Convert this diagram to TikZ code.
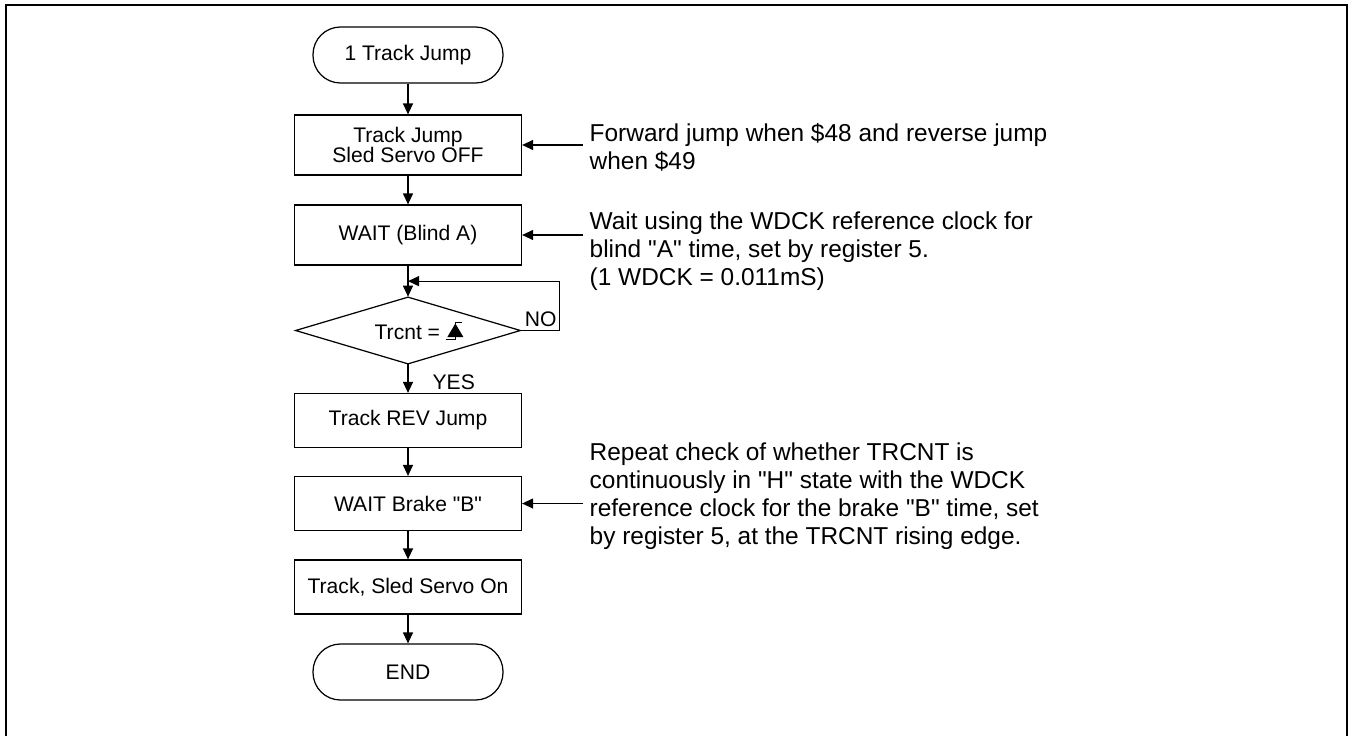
\documentclass[tikz,border=0pt]{standalone}
\usepackage{fontspec}
\setmainfont{Liberation Sans}[Ligatures=TeXOff]
\usetikzlibrary{calc}
\usetikzlibrary{shapes}
\usetikzlibrary{arrows.meta}

\newcommand{\risingedge}{\tikz[baseline=0pt]{%
  \draw[line width=0.5pt] (-0.18,0) -- (0,0) -- (0,0.34) -- (0.14,0.34);
  \fill (-0.16,0.04) -- (0.16,0.04) -- (0,0.31) -- cycle;}}

\begin{document}
\begin{tikzpicture}[
  node distance=1.8cm,
  >={Triangle[length=2.2mm,width=2mm]},
  line width=0.7pt,
  every node/.style={font=\fontsize{12pt}{11.3pt}\selectfont},
  stepbox/.style={draw, rectangle, minimum width=4.54cm, minimum height=1.08cm, align=center, inner sep=0pt},
  terminal/.style={draw, rectangle, rounded corners=5.5mm, minimum width=3.8cm, minimum height=1.12cm},
  decision/.style={draw, diamond, aspect=3.36, minimum width=4.5cm, minimum height=1.34cm, inner sep=0pt},
  note/.style={align=left, inner sep=0pt, font=\fontsize{13.9pt}{16pt}\selectfont}]
 \useasboundingbox (0,0) rectangle (27,-14.72);
 \draw[line width=1.1pt] (0.12,-14.72) -- (0.12,-0.1) -- (26.94,-0.1) -- (26.94,-14.72);

 \node[name=start, terminal] at (8.16,-1.1) {1 Track Jump};
 \node[name=jump, stepbox, minimum height=1.2cm, below of=start] {Track Jump\\Sled Servo OFF};
 \node[name=wait, stepbox, minimum height=1.2cm, below of=jump] {WAIT (Blind A)};
 \node[name=trcnt, decision, below of=wait, yshift=-1.1mm] {\hspace*{0.44cm}Trcnt = \risingedge};
 \node[name=rev, stepbox, below of=trcnt] {Track REV Jump};
 \node[name=brake, stepbox, below of=rev, yshift=1.4mm] {WAIT Brake "B"};
 \node[name=servo, stepbox, below of=brake, yshift=1.3mm] {Track, Sled Servo On};
 \node[name=finish, terminal, below of=servo, yshift=1mm] {END};

 \node[name=note1, note, anchor=west] at ($(jump.east)+(1.34cm,-0.04cm)$) {Forward jump when \$48 and reverse jump\\when \$49};
 \node[name=note2, note, anchor=west] at ($(wait.east)+(1.34cm,-0.32cm)$) {Wait using the WDCK reference clock for\\blind "A" time, set by register 5.\\(1 WDCK = 0.011mS)};
 \node[name=note3, note, anchor=west] at ($(brake.east)+(1.34cm,0.15cm)$) {Repeat check of whether TRCNT is\\continuously in "H" state with the WDCK\\reference clock for the brake "B" time, set\\by register 5, at the TRCNT rising edge.};

 \node[name=no, anchor=south west, inner sep=2pt] at (trcnt.east) {NO};
 \node[name=yes, anchor=west, inner sep=0pt] at ($(trcnt.south)!0.5!(rev.north)+(0.48cm,-0.08cm)$) {YES};

 \coordinate (merge) at ($(wait.south)!0.5!(trcnt.north)$);
 \coordinate (tail1) at ($(jump.east)+(1.22cm,0)$);
 \coordinate (tail2) at ($(wait.east)+(1.22cm,0)$);
 \coordinate (tail3) at ($(brake.east)+(1.22cm,0)$);

 \draw (start.south) edge[->] (jump.north);
 \draw (jump.south) edge[->] (wait.north);
 \draw (wait.south) edge[->] (trcnt.north);
 \draw (trcnt.south) edge[->] (rev.north);
 \draw (rev.south) edge[->] (brake.north);
 \draw (brake.south) edge[->] (servo.north);
 \draw (servo.south) edge[->] (finish.north);
 \draw[->] (trcnt.east) -- ++(0.78cm,0) |- (merge);

 \draw (tail1) edge[->] (jump.east);
 \draw (tail2) edge[->] (wait.east);
 \draw (tail3) edge[->] (brake.east);
\end{tikzpicture}
\end{document}
